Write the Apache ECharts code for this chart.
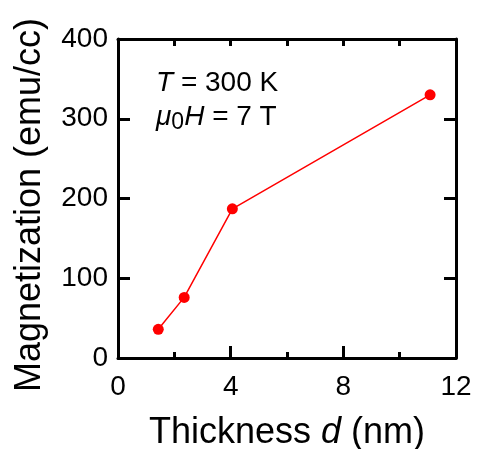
<!DOCTYPE html>
<html><head><meta charset="utf-8">
<script src="https://cdn.jsdelivr.net/npm/echarts@6/dist/echarts.min.js"></script>
<style>html,body{margin:0;padding:0;background:#fff}#c{width:478px;height:449px}</style>
</head><body><div id="c"></div>
<script>
// Data
const thickness = [1.43, 2.35, 4.06, 11.08];      // d (nm)
const magnetization = [36, 76, 187, 330];         // emu/cc
const xTickLabels = ['0', '4', '8', '12'];
const yTickLabels = ['0', '100', '200', '300', '400'];

const FONT = 'Liberation Sans, Arial, sans-serif';
const points = thickness.map((d, i) => [d, magnetization[i]]);
const black = '#000';

const chart = echarts.init(document.getElementById('c'), null, {renderer: 'canvas'});
const axisLine = {show: true, onZero: false, lineStyle: {color: black, width: 3}};
chart.setOption({
  animation: false,
  backgroundColor: '#fff',
  grid: {left: 118, top: 39, right: 22, bottom: 91, containLabel: false, outerBoundsMode: 'none'},
  xAxis: [{
    type: 'value', position: 'bottom', min: 0, max: 12, interval: 4,
    axisLine: axisLine,
    axisTick: {show: true, inside: true, length: 12, lineStyle: {color: black, width: 3}},
    minorTick: {show: true, splitNumber: 2, length: 6, lineStyle: {color: black, width: 3}},
    splitLine: {show: false}, minorSplitLine: {show: false},
    axisLabel: {color: black, fontSize: 28, fontFamily: FONT, margin: 15,
      formatter: v => xTickLabels[xTickLabels.indexOf(String(v))] || ''},
    name: 'Thickness {i|d} (nm)', nameLocation: 'middle', nameGap: 57,
    nameTextStyle: {color: black, fontSize: 36, fontFamily: FONT,
      rich: {i: {fontStyle: 'italic', fontSize: 36, fontFamily: FONT, color: black}}}
  }, {
    type: 'value', position: 'top', min: 0, max: 12, interval: 2,
    axisLine: axisLine,
    axisTick: {show: true, inside: true, length: 7, lineStyle: {color: black, width: 3}},
    axisLabel: {show: false}, splitLine: {show: false}
  }],
  yAxis: [{
    type: 'value', position: 'left', min: 0, max: 400, interval: 100,
    axisLine: axisLine,
    axisTick: {show: true, inside: true, length: 12, lineStyle: {color: black, width: 3}},
    splitLine: {show: false},
    axisLabel: {color: black, fontSize: 28, fontFamily: FONT, margin: 10,
      formatter: v => yTickLabels[yTickLabels.indexOf(String(v))] || ''},
    name: 'Magnetization (emu/cc)', nameLocation: 'middle', nameGap: 70,
    nameTextStyle: {color: black, fontSize: 36, fontFamily: FONT, padding: [0, 13, 0, 0]}
  }, {
    type: 'value', position: 'right', min: 0, max: 400, interval: 100,
    axisLine: axisLine,
    axisTick: {show: true, inside: true, length: 12, lineStyle: {color: black, width: 3}},
    axisLabel: {show: false}, splitLine: {show: false}
  }],
  series: [{
    type: 'line', xAxisIndex: 0, yAxisIndex: 0, data: points,
    symbol: 'circle', symbolSize: 11,
    itemStyle: {color: '#ff0000'},
    lineStyle: {color: '#ff0000', width: 1.5}
  }],
  graphic: [{
    type: 'text', left: 156, top: 66,
    style: {
      text: '{i|T} = 300 K\n{i|μ}{s|0}{i|H} = 7 T',
      fill: black, fontSize: 28, fontFamily: FONT, lineHeight: 34,
      rich: {
        i: {fontStyle: 'italic', fontSize: 28, fontFamily: FONT, fill: black, lineHeight: 34},
        s: {fontSize: 23, fontFamily: FONT, fill: black, lineHeight: 30, verticalAlign: 'bottom'}
      }
    }
  }]
});
</script>
</body></html>
